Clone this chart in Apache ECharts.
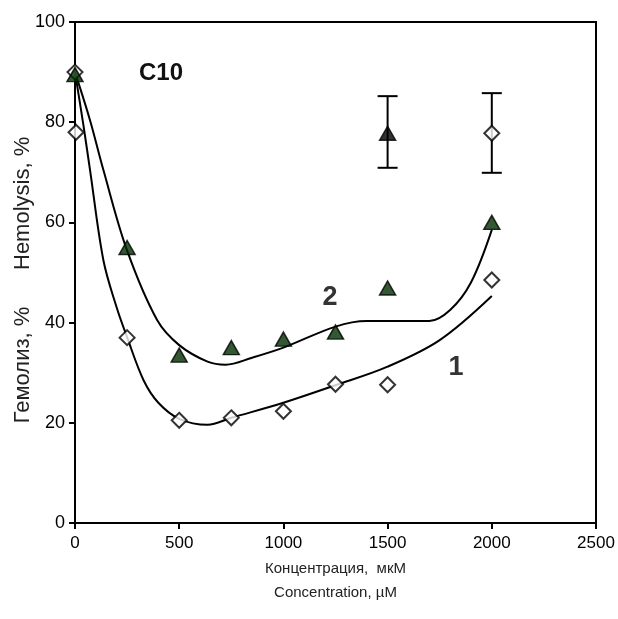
<!DOCTYPE html>
<html>
<head>
<meta charset="utf-8">
<script src="https://cdn.jsdelivr.net/npm/echarts@6/dist/echarts.min.js"></script>
<style>
  html, body { margin: 0; padding: 0; background: #fff; }
  #chart { width: 618px; height: 619px; }
</style>
</head>
<body>
<div id="chart"></div>
<script>
// measured points, series 1 (open diamonds) and series 2 (green triangles)
var pts1 = [[0, 90], [5, 78], [250, 37], [500, 20.5], [750, 21], [1000, 22.3], [1250, 27.7], [1500, 27.6], [2000, 48.5]];
var pts2 = [[0, 89.5], [250, 55], [500, 33.5], [750, 35], [1000, 36.7], [1250, 38.1], [1500, 46.9], [2000, 60]];

// fitted curves
var fit1 = [[0, 90], [40, 79.5], [72, 70.5], [136, 52.5], [200, 43], [249, 37.2], [329, 28.5], [400, 24], [500, 20.8],
            [636, 19.6], [750, 21], [1000, 24], [1250, 27.5], [1500, 31.2], [1750, 36.5], [2000, 45.3]];
var fit2 = [[0, 90], [72, 80.4], [136, 70.5], [249, 54.5], [394, 40.5], [500, 35.5], [636, 32.2], [723, 31.6],
            [850, 33], [1000, 35], [1250, 39.2], [1400, 40.3], [1700, 40.3], [1800, 42.5], [1900, 48], [2000, 58.5]];

// error bar points: [x, mean, low, high]
var errTri = [[1500, 77.8, 70.9, 85.2]];
var errDia = [[2000, 77.8, 69.9, 85.8]];

var xTicks = [0, 500, 1000, 1500, 2000, 2500];
var yTicks = [0, 20, 40, 60, 80, 100];

var font = 'Liberation Sans, Arial, sans-serif';
var chart = echarts.init(document.getElementById('chart'), null, {renderer: 'canvas'});

function errorBar(params, api) {
    var x = api.value(0);
    var lo = api.coord([x, api.value(2)]);
    var hi = api.coord([x, api.value(3)]);
    var w = 10;
    var st = {stroke: '#000', lineWidth: 2};
    return {
        type: 'group',
        children: [
            {type: 'line', shape: {x1: lo[0], y1: lo[1], x2: hi[0], y2: hi[1]}, style: st},
            {type: 'line', shape: {x1: lo[0] - w, y1: lo[1], x2: lo[0] + w, y2: lo[1]}, style: st},
            {type: 'line', shape: {x1: hi[0] - w, y1: hi[1], x2: hi[0] + w, y2: hi[1]}, style: st}
        ]
    };
}

function label(x, y, text, size, weight, color, rot) {
    return {
        type: 'text', x: x, y: y, rotation: rot || 0,
        style: {text: text, fontFamily: font, fontSize: size, fontWeight: weight, fill: color,
            align: 'center', verticalAlign: 'middle'}
    };
}

var option = {
    backgroundColor: '#fff',
    animation: false,
    grid: {left: 75, right: 22, top: 22, bottom: 96, show: true, borderColor: '#000', borderWidth: 2},
    xAxis: {
        type: 'value', min: 0, max: 2500, interval: 500,
        name: 'Концентрация,  мкМ\nConcentration, µM',
        nameLocation: 'middle', nameGap: 32,
        nameTextStyle: {fontFamily: font, fontSize: 15, color: '#222', lineHeight: 24},
        axisLine: {lineStyle: {color: '#000', width: 2}},
        axisTick: {show: true, inside: false, length: 6, lineStyle: {color: '#000', width: 2}},
        axisLabel: {fontFamily: font, fontSize: 17, color: '#000', margin: 12,
            formatter: function (v) { return xTicks.indexOf(v) >= 0 ? String(v) : ''; }},
        splitLine: {show: false}
    },
    yAxis: {
        type: 'value', min: 0, max: 100, interval: 20,
        axisLine: {lineStyle: {color: '#000', width: 2}},
        axisTick: {show: true, inside: false, length: 6, lineStyle: {color: '#000', width: 2}},
        axisLabel: {fontFamily: font, fontSize: 18, color: '#000', margin: 10,
            formatter: function (v) { return yTicks.indexOf(v) >= 0 ? String(v) : ''; }},
        splitLine: {show: false}
    },
    graphic: [
        label(23, 280, 'Гемолиз, %      Hemolysis, %', 22, 'normal', '#222', Math.PI / 2),
        label(161, 73, 'C10', 24, 'bold', '#111'),
        label(330, 298, '2', 27, 'bold', '#333'),
        label(456, 368, '1', 27, 'bold', '#333')
    ],
    series: [
        {type: 'line', data: fit1, smooth: 0.35, showSymbol: false, lineStyle: {color: '#000', width: 2}, z: 2},
        {type: 'line', data: fit2, smooth: 0.35, showSymbol: false, lineStyle: {color: '#000', width: 2}, z: 2},
        {type: 'custom', data: errTri, renderItem: errorBar, z: 3},
        {type: 'custom', data: errDia, renderItem: errorBar, z: 3},
        {type: 'scatter', data: pts1, symbol: 'diamond', symbolSize: [15, 15], clip: false,
            itemStyle: {color: '#fff', borderColor: '#000', borderWidth: 2}, z: 5},
        {type: 'scatter', data: pts2, symbol: 'triangle', symbolSize: [16, 14], clip: false,
            itemStyle: {color: '#003000', borderColor: '#000', borderWidth: 1.5}, z: 5},
        {type: 'scatter', data: errTri.map(function (d) { return [d[0], d[1]]; }), symbol: 'triangle',
            symbolSize: [16, 14], itemStyle: {color: '#000', borderColor: '#000', borderWidth: 1.5}, z: 5},
        {type: 'scatter', data: errDia.map(function (d) { return [d[0], d[1]]; }), symbol: 'diamond',
            symbolSize: [15, 15], itemStyle: {color: '#fff', borderColor: '#000', borderWidth: 2}, z: 5}
    ]
};

chart.setOption(option);
</script>
</body>
</html>
